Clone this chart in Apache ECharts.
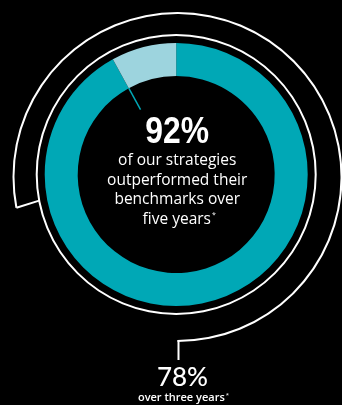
<!DOCTYPE html>
<html>
<head>
<meta charset="utf-8">
<script src="https://cdn.jsdelivr.net/npm/echarts@6/dist/echarts.min.js"></script>
<style>
html,body{margin:0;padding:0;background:#000;}
#chart{width:342px;height:405px;}
</style>
</head>
<body>
<div id="chart"></div>
<script>
// Data
const fiveYearCategories = ['Outperformed', 'Did not outperform'];
const fiveYearValues = [92, 8];
const threeYearCategories = ['Outperformed', 'Rest'];
const threeYearValues = [78, 22];
const headline = '92%';
const headlineLines = ['of our strategies', 'outperformed their', 'benchmarks over', 'five years'];
const subValue = '78%';
const subLabel = 'over three years';

const TEAL = '#00a8b6';
const LIGHT = '#9dd4de';

const C = [176.2, 174.5];      // inner donut centre
const C2 = [177.5, 177];       // outer arc centre
const R_IN = 98.5, R_OUT = 131.5;
const R_RING = 139.5;
const R_ARC = 164;

const chart = echarts.init(document.getElementById('chart'), null, {renderer: 'canvas'});

// geometry from data
const totalFive = fiveYearValues.reduce((a, b) => a + b, 0);
const boundaryDeg = 90 - 360 * fiveYearValues[0] / totalFive; // clockwise from top
const bRad = boundaryDeg * Math.PI / 180;
const leader = {
  x1: C[0] + R_IN * Math.cos(bRad), y1: C[1] - R_IN * Math.sin(bRad),
  x2: C[0] + 74 * Math.cos(bRad), y2: C[1] - 74 * Math.sin(bRad)
};
const totalThree = threeYearValues.reduce((a, b) => a + b, 0);
const arcEndDeg = -90 + 360 * threeYearValues[0] / totalThree; // counter-clockwise from bottom
const aRad = arcEndDeg * Math.PI / 180;
const connector = {
  x1: C2[0] + R_ARC * Math.cos(aRad), y1: C2[1] - R_ARC * Math.sin(aRad),
  x2: C[0] + R_RING * Math.cos(aRad), y2: C[1] - R_RING * Math.sin(aRad)
};
const startX = C2[0], startY = C2[1] + R_ARC;

const base = {
  type: 'pie', silent: true, label: {show: false}, labelLine: {show: false},
  emphasis: {disabled: true}, animation: false
};

const white = '#ffffff';
const textFont = '"Open Sans", Lato, sans-serif';

chart.setOption({
  backgroundColor: '#000',
  animation: false,
  series: [
    Object.assign({}, base, {
      name: 'five',
      center: C, radius: [R_IN, R_OUT], startAngle: 90, clockwise: true,
      itemStyle: {borderWidth: 0},
      data: fiveYearCategories.map((n, i) => ({name: n, value: fiveYearValues[i], itemStyle: {color: i === 0 ? TEAL : LIGHT}}))
    }),
    Object.assign({}, base, {
      name: 'ring',
      center: C, radius: [R_RING - 1, R_RING + 1],
      itemStyle: {borderWidth: 0, color: white},
      data: [{name: 'ring', value: 1}]
    }),
    Object.assign({}, base, {
      name: 'three',
      center: C2, radius: [R_ARC - 1, R_ARC + 1], startAngle: -90, clockwise: false,
      itemStyle: {borderWidth: 0},
      data: threeYearCategories.map((n, i) => ({name: n, value: threeYearValues[i], itemStyle: {color: i === 0 ? white : 'rgba(0,0,0,0)'}}))
    })
  ],
  graphic: [
    {type: 'line', shape: leader, style: {stroke: TEAL, lineWidth: 1.5}, silent: true},
    {type: 'line', shape: connector, style: {stroke: white, lineWidth: 2}, silent: true},
    {type: 'line', shape: {x1: startX + 1, y1: startY - 1, x2: startX + 1, y2: startY + 19}, style: {stroke: white, lineWidth: 2}, silent: true},
    {type: 'text', x: C[0] + 1, y: 132.5, scaleX: 0.86, style: {text: headline, fill: white, font: 'bold 37px "Liberation Sans", Arial, sans-serif', align: 'center', verticalAlign: 'middle'}},
    {type: 'text', x: C[0] + 1, y: 161, style: {text: headlineLines[0], fill: white, font: '15.5px ' + textFont, align: 'center', verticalAlign: 'middle'}},
    {type: 'text', x: C[0] + 1, y: 180.5, style: {text: headlineLines[1], fill: white, font: '15.5px ' + textFont, align: 'center', verticalAlign: 'middle'}},
    {type: 'text', x: C[0] + 1, y: 200, style: {text: headlineLines[2], fill: white, font: '15.5px ' + textFont, align: 'center', verticalAlign: 'middle'}},
    {type: 'text', x: C[0] + 3, y: 219.5, style: {text: '{a|' + headlineLines[3] + '}{s|*}', fill: white, align: 'center', verticalAlign: 'middle',
      rich: {a: {font: '15.5px ' + textFont, fill: white}, s: {font: '7px ' + textFont, fill: white, verticalAlign: 'top', padding: [0, 0, 9, 1]}}}},
    {type: 'text', x: startX + 5, y: 378, style: {text: subValue, fill: white, font: '500 26px Lato, sans-serif', align: 'center', verticalAlign: 'middle'}},
    {type: 'text', x: startX + 6, y: 398, style: {text: '{a|' + subLabel + '}{s|*}', fill: white, align: 'center', verticalAlign: 'middle',
      rich: {a: {font: '600 11px ' + textFont, fill: white}, s: {font: '6px ' + textFont, fill: white, verticalAlign: 'top', padding: [0, 0, 6, 1]}}}}
  ]
});
</script>
</body>
</html>
